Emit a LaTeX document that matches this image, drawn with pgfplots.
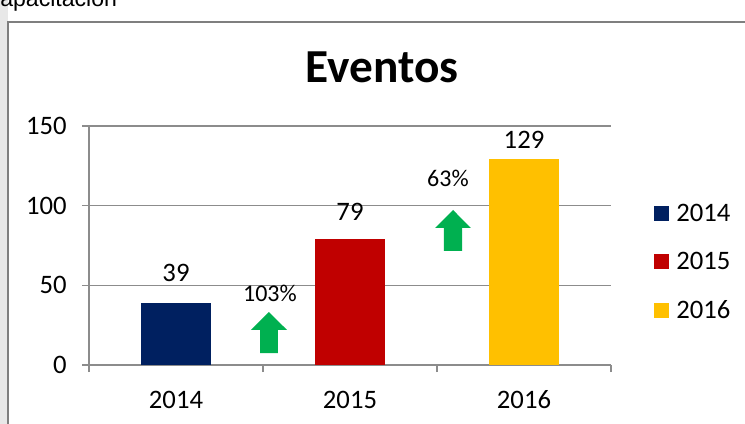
\documentclass[border=0pt]{standalone}
\usepackage{pgfplots}
\pgfplotsset{compat=1.18}
\usepackage{fontspec}
\setmainfont{Carlito}
\newfontfamily\arial{Liberation Sans}
\definecolor{navy}{HTML}{002060}
\definecolor{dred}{HTML}{C00000}
\definecolor{gold}{HTML}{FFC000}
\definecolor{grn}{HTML}{00B050}
\definecolor{axgray}{HTML}{8C8C8C}
\definecolor{framegray}{HTML}{7F7F7F}
\begin{document}
\begin{tikzpicture}
\useasboundingbox (0,0) rectangle (558.75pt,318pt);
\clip (0,0) rectangle (558.75pt,318pt);
\begin{scope}[x=0.75pt,y=-0.75pt,yshift=318pt]
\fill[white] (0,0) rectangle (745,424);
\fill[gray!18] (0,0) rectangle (8,424);
\node[anchor=base west, font=\arial\fontsize{17.3}{20}\selectfont, inner sep=0] at (-16.6,7) {Capacitación};
\draw[framegray, line width=1.5pt] (8,430) -- (8,22) -- (750,22);
\node[font=\bfseries\fontsize{35.5}{40}\selectfont] at (382,67) {Eventos};
\end{scope}
\begin{axis}[
  at={(66.75pt,44.25pt)}, anchor=south west, scale only axis,
  width=391.5pt, height=179.25pt,
  xmin=-0.5, xmax=2.5, ymin=0, ymax=150,
  clip=false,
  axis lines=left,
  axis line style={-, draw=axgray, line width=1.1pt},
  xtick={0,1,2}, xticklabels={2014,2015,2016},
  major x tick style={draw=none},
  minor xtick={-0.5,0.5,1.5,2.5},
  minor x tick style={draw=axgray, line width=1.1pt},
  ytick={0,50,100,150},
  ymajorgrids,
  grid style={axgray, line width=1.1pt},
  tick align=outside,
  major tick length=5.25pt, minor tick length=5.25pt,
  y tick style={draw=axgray, line width=1.1pt},
  /pgf/number format/assume math mode=true,
  ticklabel style={font=\fontsize{20}{24}\selectfont},
  xticklabel style={yshift=-10pt, text height=14pt, text depth=0pt},
  yticklabel style={xshift=-8pt},
  ybar, bar width=52.5pt, bar shift=0pt,
  legend style={at={(1.082,0.43)}, anchor=west, draw=none, fill=none,
    font=\fontsize{20}{24}\selectfont, row sep=19.6pt, inner sep=0pt,
    nodes={inner sep=1pt},
    /tikz/every odd column/.append style={column sep=4.5pt}},
  legend image code/.code={\fill[#1] (0pt,-5.6pt) rectangle (11.25pt,5.6pt);},
  legend cell align=left,
]
\addplot[fill=navy, draw=none] coordinates {(0,39)};
\addplot[fill=dred, draw=none] coordinates {(1,79)};
\addplot[fill=gold, draw=none] coordinates {(2,129)};
\legend{2014,2015,2016}
\node[font=\fontsize{20}{24}\selectfont] at (axis cs:0,57.7) {39};
\node[font=\fontsize{20}{24}\selectfont] at (axis cs:1,96) {79};
\node[font=\fontsize{20}{24}\selectfont] at (axis cs:2,141.2) {129};
\node[font=\fontsize{18}{21}\selectfont] at (axis cs:0.540,45.2) {103\%};
\node[font=\fontsize{18}{21}\selectfont] at (axis cs:1.563,117.4) {63\%};
\fill[grn] (axis cs:0.483,7.53) -- (axis cs:0.483,21.97) -- (axis cs:0.431,21.97) -- (axis cs:0.534,33.26) -- (axis cs:0.638,21.97) -- (axis cs:0.586,21.97) -- (axis cs:0.586,7.53) -- cycle;
\fill[grn] (axis cs:1.540,71.55) -- (axis cs:1.540,85.99) -- (axis cs:1.489,85.99) -- (axis cs:1.592,97.28) -- (axis cs:1.695,85.99) -- (axis cs:1.644,85.99) -- (axis cs:1.644,71.55) -- cycle;
\end{axis}
\end{tikzpicture}
\end{document}
